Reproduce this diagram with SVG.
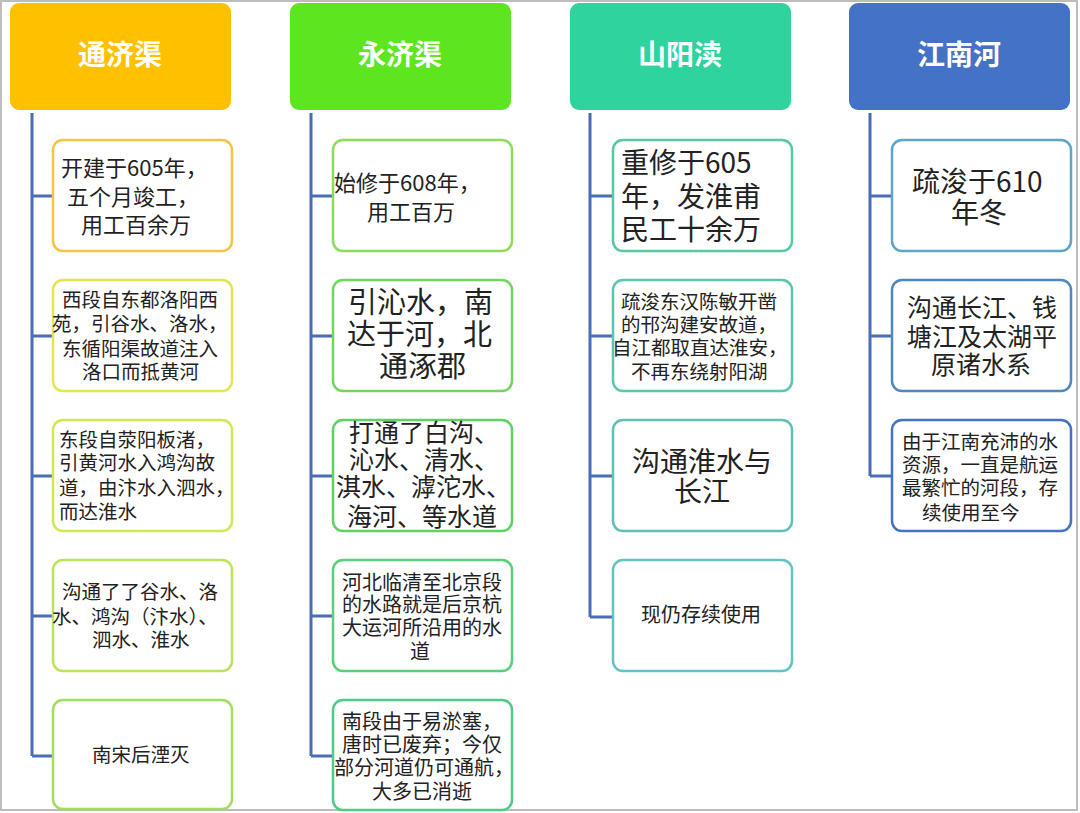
<svg xmlns="http://www.w3.org/2000/svg" width="1080" height="813" viewBox="0 0 1080 813">
<style>
.hdr{stroke:none}
.ht{font-family:"Noto Sans CJK SC","Noto Sans",sans-serif;font-weight:bold;font-size:28px;fill:#ffffff;text-anchor:middle}
.box{fill:#ffffff;stroke-width:2.5}
.t{font-family:"Noto Sans CJK SC","Liberation Sans",sans-serif;fill:#222222}
.conn{fill:none;stroke:#4a6db5;stroke-width:3}
</style>
<rect x="0" y="0" width="1080" height="813" fill="#ffffff"/>
<rect x="1" y="1" width="1076" height="809" fill="none" stroke="#bdbdbd" stroke-width="2"/>

<g id="connectors">
<path class="conn" d="M32,113 V756 M32,196 H53 M32,336 H53 M32,476 H53 M32,616 H53 M32,756 H53"/>
<path class="conn" d="M311,113 V756 M311,196 H333 M311,336 H333 M311,476 H333 M311,616 H333 M311,756 H333"/>
<path class="conn" d="M590,113 V617 M590,196 H613 M590,336 H613 M590,476 H613 M590,617 H613"/>
<path class="conn" d="M870,113 V476 M870,196 H892 M870,336 H892 M870,476 H892"/>
</g>

<g id="h1"><rect class="hdr" x="10" y="3" width="221" height="107" rx="9" fill="#ffc000"/><text class="ht" x="120" y="65">通济渠</text></g>
<g id="h2"><rect class="hdr" x="290" y="3" width="221" height="107" rx="9" fill="#5de61f"/><text class="ht" x="400" y="65">永济渠</text></g>
<g id="h3"><rect class="hdr" x="570" y="3" width="221" height="107" rx="9" fill="#2ed39e"/><text class="ht" x="680" y="65">山阳渎</text></g>
<g id="h4"><rect class="hdr" x="849" y="3" width="221" height="107" rx="9" fill="#4472c4"/><text class="ht" x="959" y="65">江南河</text></g>

<g id="c1b1"><rect class="box" x="53" y="140" width="179" height="111" rx="10" stroke="#f5c445"/>
<text class="t" font-size="22"><tspan x="61" y="176">开建于605年，</tspan><tspan x="67" y="205">五个月竣工，</tspan><tspan x="81" y="233">用工百余万</tspan></text></g>
<g id="c1b2"><rect class="box" x="53" y="280" width="179" height="111" rx="10" stroke="#e3e64e"/>
<text class="t" font-size="19.5"><tspan x="62" y="307">西段自东都洛阳西</tspan><tspan x="52" y="331">苑，引谷水、洛水，</tspan><tspan x="62" y="356">东循阳渠故道注入</tspan><tspan x="82" y="379">洛口而抵黄河</tspan></text></g>
<g id="c1b3"><rect class="box" x="53" y="420" width="179" height="111" rx="10" stroke="#d2e850"/>
<text class="t" font-size="19.5"><tspan x="59" y="447">东段自荥阳板渚，</tspan><tspan x="59" y="470">引黄河水入鸿沟故</tspan><tspan x="59" y="495">道，由汴水入泗水，</tspan><tspan x="59" y="519">而达淮水</tspan></text></g>
<g id="c1b4"><rect class="box" x="53" y="560" width="179" height="111" rx="10" stroke="#bde35c"/>
<text class="t" font-size="19.5"><tspan x="62" y="599">沟通了了谷水、洛</tspan><tspan x="52" y="624">水、鸿沟（汴水）、</tspan><tspan x="92" y="647">泗水、淮水</tspan></text></g>
<g id="c1b5"><rect class="box" x="53" y="700" width="179" height="109" rx="10" stroke="#a3dd5e"/>
<text class="t" font-size="19.5"><tspan x="92" y="762">南宋后湮灭</tspan></text></g>

<g id="c2b1"><rect class="box" x="333" y="140" width="179" height="111" rx="10" stroke="#8cdc5c"/>
<text class="t" font-size="22"><tspan x="334" y="191">始修于608年，</tspan><tspan x="367" y="220">用工百万</tspan></text></g>
<g id="c2b2"><rect class="box" x="333" y="280" width="179" height="111" rx="10" stroke="#6fd65e"/>
<text class="t" font-size="29"><tspan x="348" y="313">引沁水，南</tspan><tspan x="347" y="345">达于河，北</tspan><tspan x="379" y="377">通涿郡</tspan></text></g>
<g id="c2b3"><rect class="box" x="333" y="420" width="179" height="111" rx="10" stroke="#5fd262"/>
<text class="t" font-size="25"><tspan x="349" y="442">打通了白沟、</tspan><tspan x="349" y="469">沁水、清水、</tspan><tspan x="336" y="496">淇水、滹沱水、</tspan><tspan x="347" y="526">海河、等水道</tspan></text></g>
<g id="c2b4"><rect class="box" x="333" y="560" width="179" height="111" rx="10" stroke="#58cf78"/>
<text class="t" font-size="20"><tspan x="342" y="590">河北临清至北京段</tspan><tspan x="342" y="612">的水路就是后京杭</tspan><tspan x="342" y="635">大运河所沿用的水</tspan><tspan x="410" y="659">道</tspan></text></g>
<g id="c2b5"><rect class="box" x="333" y="700" width="179" height="110" rx="10" stroke="#4fcb86"/>
<text class="t" font-size="20"><tspan x="342" y="729">南段由于易淤塞，</tspan><tspan x="342" y="752">唐时已废弃；今仅</tspan><tspan x="334" y="775">部分河道仍可通航，</tspan><tspan x="372" y="799">大多已消逝</tspan></text></g>

<g id="c3b1"><rect class="box" x="613" y="140" width="179" height="111" rx="10" stroke="#55c9a4"/>
<text class="t" font-size="28"><tspan x="621" y="173">重修于605</tspan><tspan x="621" y="207">年，发淮甫</tspan><tspan x="621" y="240">民工十余万</tspan></text></g>
<g id="c3b2"><rect class="box" x="613" y="280" width="179" height="111" rx="10" stroke="#5bc6ad"/>
<text class="t" font-size="19.5"><tspan x="621" y="309">疏浚东汉陈敏开凿</tspan><tspan x="621" y="332">的邗沟建安故道，</tspan><tspan x="612" y="355">自江都取直达淮安，</tspan><tspan x="631" y="379">不再东绕射阳湖</tspan></text></g>
<g id="c3b3"><rect class="box" x="613" y="420" width="179" height="111" rx="10" stroke="#5ec1b6"/>
<text class="t" font-size="28"><tspan x="632" y="472">沟通淮水与</tspan><tspan x="674" y="502">长江</tspan></text></g>
<g id="c3b4"><rect class="box" x="613" y="560" width="179" height="111" rx="10" stroke="#62c3c2"/>
<text class="t" font-size="20"><tspan x="641" y="622">现仍存续使用</tspan></text></g>

<g id="c4b1"><rect class="box" x="892" y="140" width="179" height="111" rx="10" stroke="#5ea5c8"/>
<text class="t" font-size="28"><tspan x="912" y="192">疏浚于610</tspan><tspan x="951" y="223">年冬</tspan></text></g>
<g id="c4b2"><rect class="box" x="892" y="280" width="179" height="111" rx="10" stroke="#4f88c0"/>
<text class="t" font-size="25"><tspan x="907" y="317">沟通长江、钱</tspan><tspan x="907" y="346">塘江及太湖平</tspan><tspan x="931" y="374">原诸水系</tspan></text></g>
<g id="c4b3"><rect class="box" x="892" y="420" width="179" height="111" rx="10" stroke="#4472c4"/>
<text class="t" font-size="19.5"><tspan x="902" y="449">由于江南充沛的水</tspan><tspan x="902" y="472">资源，一直是航运</tspan><tspan x="902" y="495">最繁忙的河段，存</tspan><tspan x="922" y="520">续使用至今</tspan></text></g>
</svg>
